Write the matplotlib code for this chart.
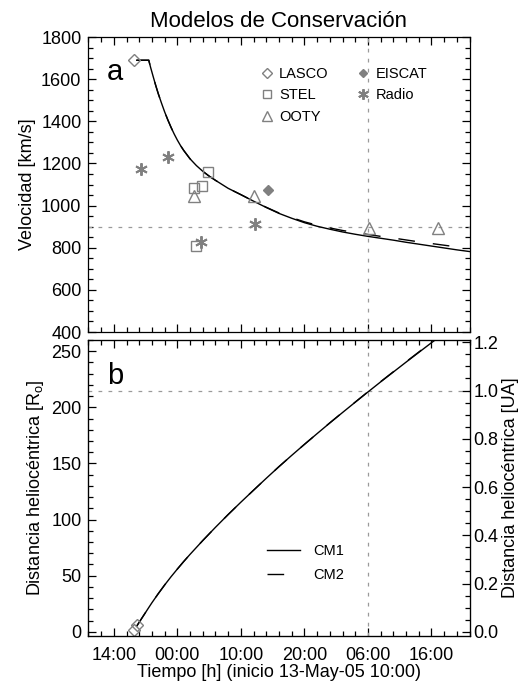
import matplotlib
matplotlib.use("Agg")
import matplotlib.pyplot as plt
from matplotlib.ticker import MultipleLocator, FixedLocator, FuncFormatter

plt.rcParams["font.family"] = ["Liberation Sans", "DejaVu Sans"]
plt.rcParams["mathtext.fontset"] = "custom"
plt.rcParams["mathtext.rm"] = "Liberation Sans"

# Hours counted from 13-May-05 10:00
cm1_hours = [7.6, 9.5, 9.8, 10.2, 10.6, 11.0, 11.5, 12.0, 12.5, 13.0, 13.5,
             14.0, 14.5, 15.0, 16.0, 17.0, 18.0, 19.0, 20.0, 22.0, 24.0, 26.0,
             28.0, 30.0, 32.0, 34.0, 36.0, 38.0, 40.0, 42.0, 44.0, 46.0, 48.0,
             50.0, 52.0, 54.0, 56.0, 58.0, 60.0]
cm1_speed = [1690, 1690, 1655, 1612, 1570, 1531, 1487, 1445, 1407, 1372, 1340,
             1311, 1285, 1262, 1222, 1190, 1163, 1140, 1120, 1082, 1052, 1021,
             991, 963, 940, 919, 902, 888, 875, 864, 854, 845, 836,
             826, 817, 808, 799, 790, 782]

cm2_hours = [7.6, 9.5, 9.8, 10.2, 10.6, 11.0, 11.5, 12.0, 12.5, 13.0, 13.5,
             14.0, 14.5, 15.0, 16.0, 17.0, 18.0, 19.0, 20.0, 22.0, 24.0, 26.0,
             28.0, 30.0, 32.0, 34.0, 36.0, 38.0, 40.0, 42.0, 44.0, 46.0, 48.0,
             50.0, 52.0, 54.0, 56.0, 57.5]
cm2_speed = [1690, 1690, 1655, 1612, 1570, 1531, 1487, 1445, 1407, 1372, 1340,
             1311, 1285, 1262, 1222, 1190, 1163, 1140, 1120, 1082, 1052, 1021,
             992, 965, 943, 923, 907, 894, 882, 872, 863, 854, 846,
             837, 828, 820, 812, 806]

dist_hours = [7.6, 8.5, 9.5, 10.0, 11.0, 12.0, 13.0, 14.0, 15.0, 16.0, 18.0,
              20.0, 22.0, 24.0, 26.0, 28.0, 30.0, 32.0, 34.0, 36.0, 38.0, 40.0,
              42.0, 44.0, 46.0, 50.0, 54.0, 58.0, 60.0]
cm1_dist = [5.0, 12.9, 21.6, 25.9, 34.0, 41.7, 49.0, 55.9, 62.6, 69.0, 81.3,
            93.1, 104.5, 115.5, 126.2, 136.8, 147.2, 157.2, 167.0, 176.6, 186.1,
            195.4, 204.6, 213.7, 222.7, 240.3, 257.6, 274.4, 282.6]
cm2_dist = [5.0, 12.9, 21.6, 25.9, 34.0, 41.7, 49.0, 55.9, 62.6, 69.0, 81.3,
            93.1, 104.5, 115.5, 126.2, 136.8, 147.2, 157.2, 167.0, 176.6, 186.2,
            195.5, 204.7, 213.9, 222.9, 240.6, 258.0, 274.9, 283.1]

# observed speeds
lasco_hours, lasco_speed = [7.2], [1690]
stel_hours = [16.7, 17.9, 18.8, 17.0]
stel_speed = [1085, 1093, 1159, 810]
ooty_hours = [16.6, 26.1, 44.1, 55.1]
ooty_speed = [1046, 1046, 895, 895]
eiscat_hours, eiscat_speed = [28.2], [1075]
radio_hours = [8.3, 12.5, 17.8, 26.2]
radio_speed = [1175, 1230, 825, 915]

# LASCO height-time points
lasco_dist_hours = [7.1, 7.6]
lasco_dist = [1.5, 6.0]

x_ticks = [4, 14, 24, 34, 44, 54]
x_ticklabels = ["14:00", "00:00", "10:00", "20:00", "06:00", "16:00"]
arrival_hour = 44
ref_speed = 900
au_rsun = 215

GRAY = "#808080"
REF = "#9a9a9a"


def style_ticks(ax, right=True):
    ax.tick_params(which="both", direction="in", top=True, right=right,
                   labelsize=13, width=0.9, pad=5)
    ax.tick_params(axis="x", pad=8)
    ax.tick_params(which="major", length=6)
    ax.tick_params(which="minor", length=3.5)
    for s in ax.spines.values():
        s.set_linewidth(0.9)


fig = plt.figure(figsize=(5.2, 6.86), dpi=100)
ax1 = fig.add_axes([0.170, 0.516, 0.733, 0.430])
ax2 = fig.add_axes([0.170, 0.0733, 0.733, 0.431])

mk = dict(linestyle="none", markerfacecolor="none", markeredgecolor=GRAY,
          markeredgewidth=1.0)

# panel a: speed
ax1.axhline(ref_speed, color=REF, lw=0.9, dashes=(3, 5))
ax1.axvline(arrival_hour, color=REF, lw=0.9, dashes=(3, 5))
ax1.plot(cm1_hours, cm1_speed, color="black", lw=1.0)
ax1.plot(cm2_hours, cm2_speed, color="black", lw=1.0, dashes=(12, 13))
ax1.plot(lasco_hours, lasco_speed, marker="D", markersize=6.5, label="LASCO", **mk)
ax1.plot(stel_hours, stel_speed, marker="s", markersize=6.5, label="STEL", **mk)
ax1.plot(ooty_hours, ooty_speed, marker="^", markersize=8, label="OOTY", **mk)
ax1.plot(eiscat_hours, eiscat_speed, marker="D", markersize=5, linestyle="none",
         color=GRAY, label="EISCAT")
ax1.plot(radio_hours, radio_speed, marker=(6, 2, 0), markersize=9,
         linestyle="none", color=GRAY, markeredgewidth=1.4, label="Radio")

ax1.set_xlim(0, 60)
ax1.set_ylim(400, 1800)
ax1.xaxis.set_major_locator(FixedLocator(x_ticks))
ax1.xaxis.set_minor_locator(MultipleLocator(2))
ax1.set_xticklabels([])
ax1.yaxis.set_major_locator(MultipleLocator(200))
ax1.yaxis.set_minor_locator(MultipleLocator(50))
style_ticks(ax1)
ax1.set_ylabel("Velocidad [km/s]", fontsize=13)
ax1.text(4.2, 1635, "a", fontsize=21, ha="center", va="center")
ax1.set_title("Modelos de Conservación", fontsize=16, pad=7)

ax1.legend(ncol=2, loc="upper left", bbox_to_anchor=(0.452, 0.898),
           frameon=False, fontsize=10.5, handlelength=0.8, markerscale=0.85,
           handletextpad=0.45, columnspacing=2.0, labelspacing=0.5,
           borderpad=0, borderaxespad=0)

# panel b: heliocentric distance
ax2.axhline(au_rsun, color=REF, lw=0.9, dashes=(3, 5))
ax2.axvline(arrival_hour, color=REF, lw=0.9, dashes=(3, 5))
ax2.plot(dist_hours, cm1_dist, color="black", lw=1.0, label="CM1")
ax2.plot(dist_hours, cm2_dist, color="black", lw=1.0, dashes=(12, 13), label="CM2")
ax2.plot(lasco_dist_hours, lasco_dist, marker="D", markersize=6.5, **mk)

ax2.set_xlim(0, 60)
ax2.set_ylim(-3.5, 260)
ax2.xaxis.set_major_locator(FixedLocator(x_ticks))
ax2.xaxis.set_minor_locator(MultipleLocator(2))
ax2.set_xticklabels(x_ticklabels)
ax2.yaxis.set_major_locator(MultipleLocator(50))
ax2.yaxis.set_minor_locator(MultipleLocator(10))
style_ticks(ax2, right=False)
ax2.set_ylabel("Distancia heliocéntrica [R$_\\mathrm{o}$]", fontsize=13)
ax2.set_xlabel("Tiempo [h] (inicio 13-May-05 10:00)", fontsize=13, labelpad=0)
ax2.text(4.2, 228, "b", fontsize=21, ha="center", va="center")
ax2.legend(loc="upper left", bbox_to_anchor=(0.468, 0.31), frameon=False,
           fontsize=10.5, handlelength=2.25, handletextpad=0.95,
           labelspacing=0.7, borderpad=0, borderaxespad=0)

ax3 = ax2.twinx()
lo, hi = ax2.get_ylim()
ax3.set_ylim(lo / au_rsun, hi / au_rsun)
ax3.yaxis.set_major_locator(MultipleLocator(0.2))
ax3.yaxis.set_minor_locator(MultipleLocator(0.05))
ax3.yaxis.set_major_formatter(FuncFormatter(lambda v, p: f"{v:.1f}"))
ax3.tick_params(which="both", direction="in", labelsize=13, width=0.9, pad=3)
ax3.tick_params(which="major", length=6)
ax3.tick_params(which="minor", length=3.5)
ax3.set_ylabel("Distancia heliocéntrica [UA]", fontsize=13, labelpad=2)

fig.savefig("out.png", dpi=100)
